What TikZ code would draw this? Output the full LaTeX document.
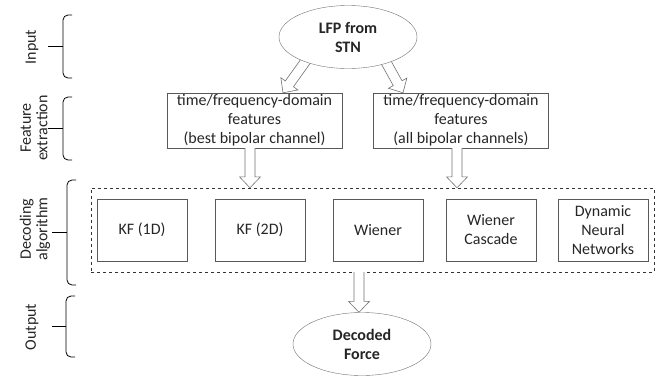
\documentclass[tikz,border=0pt]{standalone}
\usepackage{fontspec}
\setmainfont{Carlito}
\usetikzlibrary{calc,shapes.geometric}
\pgfdeclarelayer{bg}
\pgfsetlayers{bg,main}
\tikzset{
  txt/.style={font=\fontsize{16}{19}\selectfont, text=black!85},
  ell/.style={txt, ellipse, draw=black!55, fill=white, minimum width=138pt, minimum height=63pt, inner sep=0pt, align=center, font=\fontsize{16}{19}\selectfont\bfseries},
  featbox/.style={txt, rectangle, draw=black!65, minimum width=175pt, minimum height=55pt, inner sep=0pt, align=center},
  algbox/.style={txt, rectangle, draw=black!65, minimum width=90pt, minimum height=62pt, inner sep=0pt, align=center},
  decbox/.style={rectangle, draw=black!80, dashed, minimum width=563pt, minimum height=84pt},
  blk/.style={draw=black!55, fill=white, line width=0.6pt, line join=miter},
  brc/.style={draw=black, line width=0.8pt},
  lbl/.style={text=black!85, rotate=90, align=center, inner sep=0pt, font=\fontsize{16}{16.5}\selectfont}
}
\newcommand\blkarrow[2]{%
  \coordinate (bab) at ($(#2)!11pt!(#1)$);
  \draw[blk] ($(#1)!5pt!90:(#2)$) -- ($(bab)!5pt!-90:(#1)$) -- ($(bab)!10.5pt!-90:(#1)$) -- (#2) -- ($(bab)!10.5pt!90:(#1)$) -- ($(bab)!5pt!90:(#1)$) -- ($(#1)!5pt!-90:(#2)$);}
\newcommand\mybrace[5]{% x-vertical, x-tip, top, bottom, x-tick
  \draw[brc, rounded corners=5pt] (#2,#3) -- (#1,#3) -- (#1,#4) -- (#2,#4);
  \draw[brc] (#1,{(#3+#4)/2}) -- (#5,{(#3+#4)/2});}
\begin{document}
\begin{tikzpicture}[x=1pt, y=-1pt]
\useasboundingbox (0,0) rectangle (657,376);
% nodes
\node[ell] (lfp) at (348,37) {LFP from\\STN};
\node[featbox] (fb1) at (254.5,120.5) {time/frequency-domain\\features\\(best bipolar channel)};
\node[featbox] (fb2) at (461,120.5) {time/frequency-domain\\features\\(all bipolar channels)};
\node[decbox] (dec) at (372.5,230) {};
\node[algbox] (k1) at (142,230) {KF (1D)};
\node[algbox] (k2) at (260,230) {KF (2D)};
\node[algbox] (wi) at (378,230) {Wiener};
\node[algbox] (wc) at (491,230) {Wiener\\Cascade};
\node[algbox] (dn) at (603,230) {Dynamic\\Neural\\Networks};
\node[ell] (out) at (362,344) {Decoded\\Force};
% arrow end points
\coordinate (t1s) at ($(lfp.center)+(-38,18)$);
\coordinate (t1e) at ($(fb1.north)+(28.5,0)$);
\coordinate (t2s) at ($(lfp.center)+(34,18)$);
\coordinate (t2e) at ($(fb2.north)+(-58,0)$);
\coordinate (d1s) at ($(fb1.south)+(-4.5,0)$);
\coordinate (d1e) at (d1s |- dec.north);
\coordinate (d2s) at ($(fb2.south)+(-4,0)$);
\coordinate (d2e) at (d2s |- dec.north);
\coordinate (o1e) at ($(out.north)+(-3,0)$);
\coordinate (o1s) at (o1e |- dec.south);
\begin{pgfonlayer}{bg}
\blkarrow{t1s}{t1e}
\blkarrow{t2s}{t2e}
\end{pgfonlayer}
\blkarrow{d1s}{d1e}
\blkarrow{d2s}{d2e}
\blkarrow{o1s}{o1e}
% braces
\mybrace{63}{72}{15}{78}{48}
\mybrace{63}{72}{97}{160}{48}
\mybrace{67}{76}{180}{285}{52}
\mybrace{66}{75}{296}{357}{52}
% labels
\node[lbl] (l1) at (32,47) {Input};
\node[lbl] (l2) at (34,128) {Feature\\extraction};
\node[lbl] (l3) at (35,229) {Decoding\\algorithm};
\node[lbl] (l4) at (32,327) {Output};
\end{tikzpicture}
\end{document}
